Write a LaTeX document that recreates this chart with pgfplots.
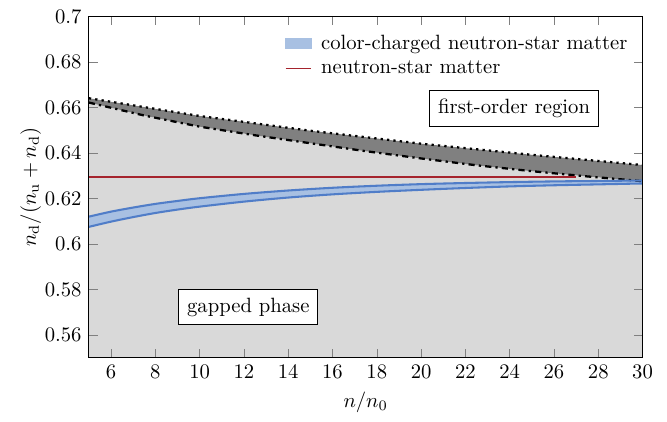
\documentclass[border=0pt]{standalone}
\usepackage{pgfplots}
\pgfplotsset{compat=1.18}
\usepgfplotslibrary{fillbetween}
\definecolor{bandblue}{RGB}{80,125,200}
\definecolor{bandfill}{RGB}{168,192,226}
\definecolor{nsred}{RGB}{165,35,45}

\begin{document}
\begin{tikzpicture}
\begin{axis}[
    scale only axis,
    width=268pt,
    height=165pt,
    xmin=5, xmax=30,
    ymin=0.55, ymax=0.7,
    xtick={6,8,...,30},
    ytick={0.56,0.58,...,0.7},
    tick style={gray},
    xlabel={$n/n_0$},
    ylabel={$n_\mathrm{d}/(n_\mathrm{u}+n_\mathrm{d})$},
    ylabel shift=-5pt,
    axis on top,
    legend style={draw=none, fill=none, at={(0.992,0.972)}, anchor=north east},
    legend cell align=left,
]
% region boundaries
\addplot[draw=none, name path=bottom, forget plot] coordinates {(5,0.55) (30,0.55)};
\addplot[draw=none, name path=lower, forget plot] coordinates {
    (5,0.6622) (7.5,0.6565) (10,0.6516) (12.5,0.6478) (15,0.6443)
    (17.5,0.6408) (20,0.6376) (22.5,0.6346) (25,0.6320) (27.5,0.6297) (30,0.6276)
};
\addplot[draw=none, name path=upper, forget plot] coordinates {
    (5,0.6641) (10,0.6563) (15,0.6498) (20,0.6441) (25,0.6392) (30,0.6347)
};
\addplot[fill=gray!30, draw=none, forget plot] fill between[of=bottom and lower];
\addplot[fill=gray, draw=none, forget plot] fill between[of=lower and upper];
\addplot[black, line width=1.1pt, dashdotted, forget plot] coordinates {
    (5,0.6622) (7.5,0.6565) (10,0.6516) (12.5,0.6478) (15,0.6443)
    (17.5,0.6408) (20,0.6376) (22.5,0.6346) (25,0.6320) (27.5,0.6297) (30,0.6276)
};
\addplot[black, line width=1.1pt, dotted, forget plot] coordinates {
    (5,0.6641) (10,0.6563) (15,0.6498) (20,0.6441) (25,0.6392) (30,0.6347)
};

% color-charged band
\addplot[bandblue, line width=1pt, smooth, name path=btop, forget plot] coordinates {
    (5,0.6120) (6,0.6142) (7,0.6160) (8,0.6176) (9,0.6189) (10,0.6201)
    (12,0.6220) (14,0.6235) (16,0.6247) (18,0.6256) (20,0.6263)
    (22,0.6268) (24,0.6272) (26,0.6275) (28,0.6277) (30,0.6279)
};
\addplot[bandblue, line width=1pt, smooth, name path=bbot, forget plot] coordinates {
    (5,0.6075) (6,0.6098) (7,0.6118) (8,0.6136) (9,0.6151) (10,0.6164)
    (12,0.6186) (14,0.6204) (16,0.6218) (18,0.6229) (20,0.6238)
    (22,0.6246) (24,0.6253) (26,0.6258) (28,0.6262) (30,0.6266)
};
\addplot[bandfill, draw=none, forget plot] fill between[of=btop and bbot];
\addlegendimage{legend image code/.code={
    \fill[bandfill] (0cm,-0.085cm) rectangle (0.44cm,0.085cm);
    \path (0.52cm,0cm);}}
\addlegendentry{color-charged neutron-star matter}

\addplot[nsred, thick, legend image code/.code={
    \draw[nsred, thick] (0cm,0cm) -- (0.44cm,0cm);
    \path (0.52cm,0cm);}] coordinates {(5,0.6294) (27,0.6294)};
\addlegendentry{neutron-star matter}

\node[draw, fill=white, inner sep=4pt] at (axis cs:24.2,0.6596) {first-order region};
\node[draw, fill=white, inner sep=4pt] at (axis cs:12.2,0.5721) {gapped phase};
\end{axis}
\path (current axis.outer west) ++(-6.5pt,0);
\path (current axis.outer east) ++(3.5pt,0);
\path (current axis.outer north) ++(0,1.5pt);
\path (current axis.outer south) ++(0,-1pt);
\end{tikzpicture}
\end{document}
